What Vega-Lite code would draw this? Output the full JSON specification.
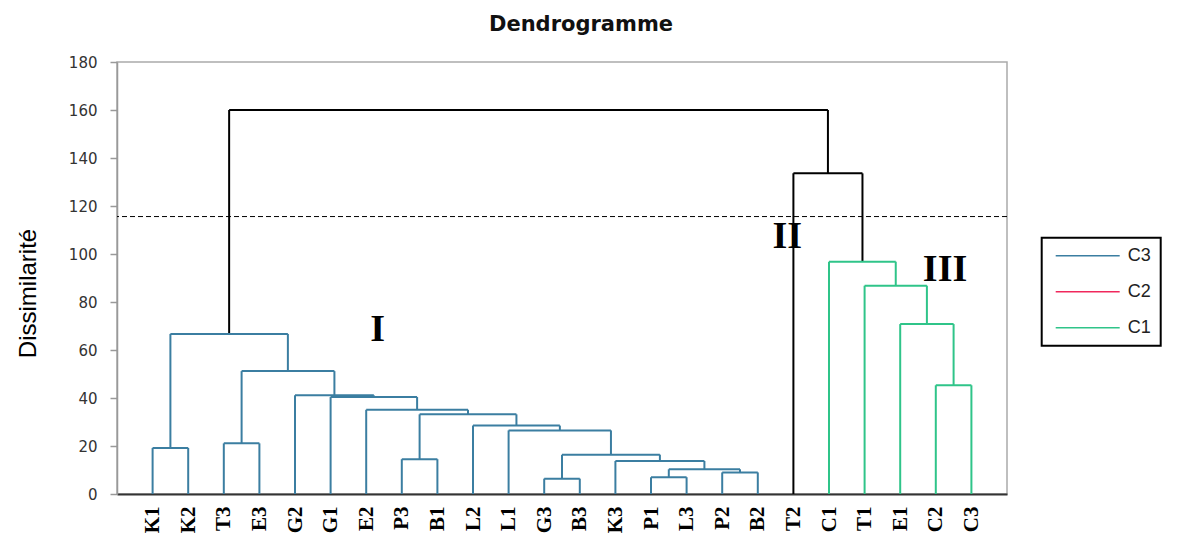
{
  "$schema": "https://vega.github.io/schema/vega-lite/v6.json",
  "autosize": "none",
  "width": 890,
  "height": 432,
  "padding": {"left": 117, "top": 62, "right": 177, "bottom": 43},
  "background": "white",
  "title": {"text": "Dendrogramme", "font": "DejaVu Sans", "fontSize": 21, "fontWeight": "bold", "anchor": "middle", "frame": "group", "dx": 19, "offset": 3, "baseline": "alphabetic", "color": "#111111"},
  "config": {
    "view": {"stroke": "#aaaaaa", "strokeWidth": 1.5},
    "axisX": {"labelOverlap": false, "labelSeparation": 0, "labelBound": false,
      "labelAngle": 270, "labelFont": "Liberation Serif", "labelFontWeight": "bold", "labelFontSize": 21, "labelColor": "black",
      "labelPadding": 12, "ticks": false, "grid": false, "domainColor": "#333333", "domainWidth": 2, "labelFlush": false}
  },
  "datasets": {
    "leaves": [
      {"name": "K1", "pos": 0}, {"name": "K2", "pos": 1}, {"name": "T3", "pos": 2}, {"name": "E3", "pos": 3},
      {"name": "G2", "pos": 4}, {"name": "G1", "pos": 5}, {"name": "E2", "pos": 6}, {"name": "P3", "pos": 7},
      {"name": "B1", "pos": 8}, {"name": "L2", "pos": 9}, {"name": "L1", "pos": 10}, {"name": "G3", "pos": 11},
      {"name": "B3", "pos": 12}, {"name": "K3", "pos": 13}, {"name": "P1", "pos": 14}, {"name": "L3", "pos": 15},
      {"name": "P2", "pos": 16}, {"name": "B2", "pos": 17}, {"name": "T2", "pos": 18}, {"name": "C1", "pos": 19},
      {"name": "T1", "pos": 20}, {"name": "E1", "pos": 21}, {"name": "C2", "pos": 22}, {"name": "C3", "pos": 23}
    ],
    "merges": [
      {"xl": 0, "xr": 1, "yl": 0, "yr": 0, "h": 19.2, "c": "C3"},
      {"xl": 2, "xr": 3, "yl": 0, "yr": 0, "h": 21.1, "c": "C3"},
      {"xl": 7, "xr": 8, "yl": 0, "yr": 0, "h": 14.5, "c": "C3"},
      {"xl": 11, "xr": 12, "yl": 0, "yr": 0, "h": 6.4, "c": "C3"},
      {"xl": 14, "xr": 15, "yl": 0, "yr": 0, "h": 7.0, "c": "C3"},
      {"xl": 16, "xr": 17, "yl": 0, "yr": 0, "h": 9.0, "c": "C3"},
      {"xl": 14.5, "xr": 16.5, "yl": 7.0, "yr": 9.0, "h": 10.3, "c": "C3"},
      {"xl": 13, "xr": 15.5, "yl": 0, "yr": 10.3, "h": 13.75, "c": "C3"},
      {"xl": 11.5, "xr": 14.25, "yl": 6.4, "yr": 13.75, "h": 16.4, "c": "C3"},
      {"xl": 10, "xr": 12.875, "yl": 0, "yr": 16.4, "h": 26.5, "c": "C3"},
      {"xl": 9, "xr": 11.44, "yl": 0, "yr": 26.5, "h": 28.5, "c": "C3"},
      {"xl": 7.5, "xr": 10.22, "yl": 14.5, "yr": 28.5, "h": 33.2, "c": "C3"},
      {"xl": 6, "xr": 8.86, "yl": 0, "yr": 33.2, "h": 35.1, "c": "C3"},
      {"xl": 5, "xr": 7.43, "yl": 0, "yr": 35.1, "h": 40.4, "c": "C3"},
      {"xl": 4, "xr": 6.215, "yl": 0, "yr": 40.4, "h": 41.1, "c": "C3"},
      {"xl": 2.5, "xr": 5.107, "yl": 21.1, "yr": 41.1, "h": 51.2, "c": "C3"},
      {"xl": 0.5, "xr": 3.8, "yl": 19.2, "yr": 51.2, "h": 66.7, "c": "C3"},
      {"xl": 22, "xr": 23, "yl": 0, "yr": 0, "h": 45.3, "c": "C1"},
      {"xl": 21, "xr": 22.5, "yl": 0, "yr": 45.3, "h": 70.8, "c": "C1"},
      {"xl": 20, "xr": 21.75, "yl": 0, "yr": 70.8, "h": 86.8, "c": "C1"},
      {"xl": 19, "xr": 20.875, "yl": 0, "yr": 86.8, "h": 96.8, "c": "C1"},
      {"xl": 18, "xr": 19.94, "yl": 0, "yr": 96.8, "h": 133.6, "c": "K"},
      {"xl": 2.15, "xr": 18.97, "yl": 66.7, "yr": 133.6, "h": 160, "c": "K"}
    ],
    "cut": [{"level": 115.6}],
    "groups": [
      {"label": "I", "pos": 6.32, "level": 68.5},
      {"label": "II", "pos": 17.83, "level": 106.9},
      {"label": "III", "pos": 22.26, "level": 93.3}
    ]
  },
  "layer": [
    {
      "data": {"name": "cut"},
      "mark": {"type": "rule", "strokeDash": [5, 3], "color": "black", "strokeWidth": 1},
      "encoding": {
        "y": {"field": "level", "type": "quantitative", "title": "Dissimilarité", "scale": {"domain": [0, 180], "nice": false},
          "axis": {"values": [0,20,40,60,80,100,120,140,160,180], "grid": false, "tickSize": 7, "tickColor": "#999999", "tickWidth": 1.5,
            "domainColor": "#999999", "domainWidth": 1.5, "labelFont": "DejaVu Sans", "labelFontSize": 15, "labelColor": "#333333", "labelPadding": 13,
            "titleFont": "Liberation Sans Narrow, Liberation Sans, Arial", "titleFontSize": 24, "titleFontWeight": "normal", "titleColor": "black",
            "titleAngle": 270, "titleX": -89, "titleY": 231, "titleAlign": "center", "titleBaseline": "middle"}}
      }
    },
    {
      "data": {"name": "leaves"},
      "mark": {"type": "point", "opacity": 0},
      "encoding": {
        "x": {"field": "pos", "type": "quantitative", "title": null, "scale": {"domain": [-1, 24], "nice": false, "zero": false},
          "axis": {"values": [0,1,2,3,4,5,6,7,8,9,10,11,12,13,14,15,16,17,18,19,20,21,22,23], "tickCount": 26, "tickMinStep": 1,
            "labelExpr": "datum.value >= 0 && datum.value <= 23 ? ['K1','K2','T3','E3','G2','G1','E2','P3','B1','L2','L1','G3','B3','K3','P1','L3','P2','B2','T2','C1','T1','E1','C2','C3'][round(datum.value)] : ''",
            "labelOverlap": false}},
        "y": {"datum": 0, "type": "quantitative", "title": "Dissimilarité"}
      }
    },
    {
      "data": {"name": "merges"},
      "mark": {"type": "rule", "strokeWidth": 2},
      "encoding": {
        "x": {"field": "xl", "type": "quantitative", "title": null},
        "y": {"field": "yl", "type": "quantitative", "title": "Dissimilarité"},
        "y2": {"field": "h"},
        "color": {"field": "c", "type": "nominal",
          "scale": {"domain": ["C3", "C2", "C1", "K"], "range": ["#3b7ea1", "#f0285c", "#2fc489", "#000000"]},
          "legend": {"values": ["C3", "C2", "C1"], "title": null, "orient": "none", "legendX": 924.7, "legendY": 175.7, "direction": "vertical",
            "symbolType": "M-4.571,0H4.571", "symbolSize": 196, "symbolStrokeWidth": 1.5, "symbolOffset": 28, "labelOffset": 31,
            "labelFontSize": 18, "labelFont": "Liberation Sans", "labelColor": "#222222", "padding": 9, "rowPadding": 18,
            "strokeColor": "black", "fillColor": "white", "encode": {"legend": {"update": {"strokeWidth": {"value": 2}}}}}}
      }
    },
    {
      "data": {"name": "merges"},
      "mark": {"type": "rule", "strokeWidth": 2},
      "encoding": {
        "x": {"field": "xr", "type": "quantitative", "title": null},
        "y": {"field": "yr", "type": "quantitative", "title": "Dissimilarité"},
        "y2": {"field": "h"},
        "color": {"field": "c", "type": "nominal"}
      }
    },
    {
      "data": {"name": "merges"},
      "mark": {"type": "rule", "strokeWidth": 2},
      "encoding": {
        "x": {"field": "xl", "type": "quantitative", "title": null},
        "x2": {"field": "xr"},
        "y": {"field": "h", "type": "quantitative", "title": "Dissimilarité"},
        "color": {"field": "c", "type": "nominal"}
      }
    },
    {
      "data": {"name": "groups"},
      "mark": {"type": "text", "font": "Liberation Serif", "fontWeight": "bold", "fontSize": 38, "baseline": "middle", "align": "center", "color": "black"},
      "encoding": {
        "x": {"field": "pos", "type": "quantitative", "title": null},
        "y": {"field": "level", "type": "quantitative", "title": "Dissimilarité"},
        "text": {"field": "label"}
      }
    }
  ]
}
